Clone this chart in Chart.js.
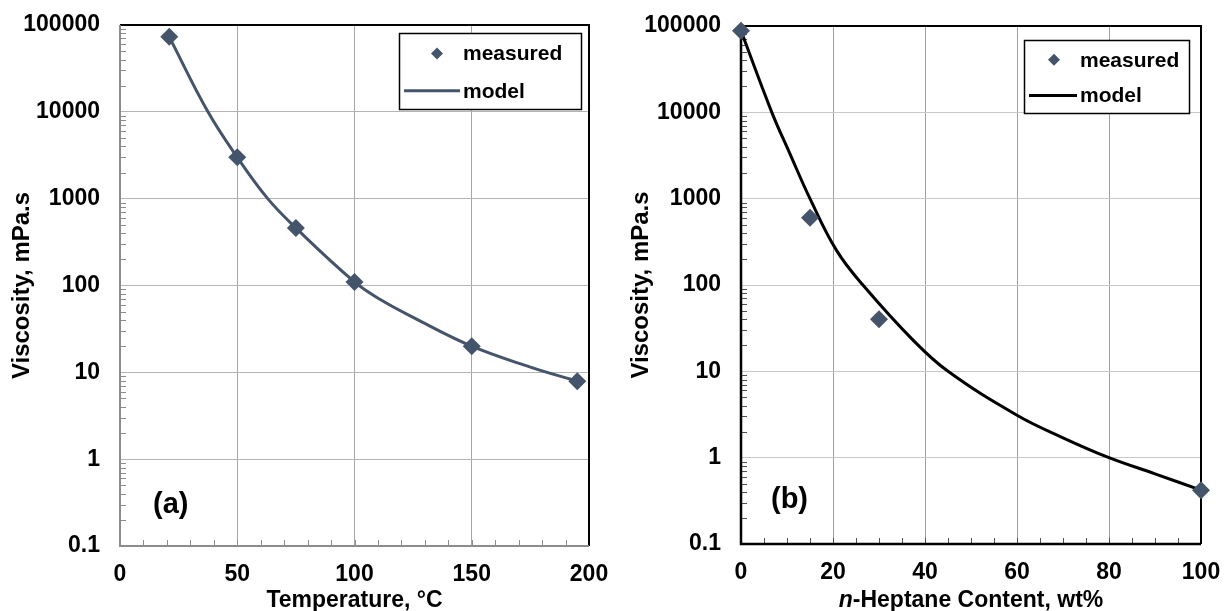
<!DOCTYPE html>
<html>
<head>
<meta charset="utf-8">
<script src="https://cdn.jsdelivr.net/npm/chart.js@4.4.1/dist/chart.umd.min.js"></script>
<style>
  html, body { margin: 0; padding: 0; background: #fff; }
  #wrap { position: relative; width: 1227px; height: 611px; }
  .panel { position: absolute; top: 0; height: 611px; }
  #panelA { left: 0; width: 612px; }
  #panelB { left: 613px; width: 614px; }
</style>
</head>
<body>
<div id="wrap">
  <div class="panel" id="panelA"><canvas id="chartA"></canvas></div>
  <div class="panel" id="panelB"><canvas id="chartB"></canvas></div>
</div>
<script>
// (a) viscosity vs temperature
var tempMeasured = [21, 50, 75, 100, 150, 195];
var viscMeasuredA = [73000, 3000, 460, 110, 20, 7.9];
var tempModel = [21, 37.5, 50, 63, 75, 100, 111, 125, 150, 175, 195];
var viscModelA = [73000, 10000, 3000, 1000, 460, 110, 69, 43, 20, 11.5, 7.9];

// (b) viscosity vs n-heptane content
var heptMeasured = [0, 15, 30, 100];
var viscMeasuredB = [88000, 600, 40, 0.42];
var heptModel = [0, 6.7, 10.6, 15, 20.8, 26.5, 37.4, 45, 60, 70, 80, 90, 100];
var viscModelB = [88000, 10000, 3350, 1000, 250, 100, 23, 10, 3.1, 1.7, 1.0, 0.65, 0.42];

var yTickValues = [0.1, 1, 10, 100, 1000, 10000, 100000];
var yTickLabels = ['0.1', '1', '10', '100', '1000', '10000', '100000'];

var FONT = '"Liberation Sans", Arial, sans-serif';
var markerColor = '#44546A';

function pts(xs, ys) {
  return xs.map(function (x, i) { return { x: x, y: ys[i] }; });
}

// frame, inside minor ticks, axis title, panel tag and legend box
var decor = {
  id: 'decor',
  beforeDatasetsDraw: function (chart, args, o) {
    var c = chart.ctx, a = chart.chartArea;
    var xs = chart.scales.x, ys = chart.scales.y;
    c.save();
    // minor ticks on the y axis
    c.strokeStyle = o.tickColor;
    c.lineWidth = 1;
    for (var d = -1; d < 5; d++) {
      for (var k = 2; k < 10; k++) {
        var py = Math.round(ys.getPixelForValue(k * Math.pow(10, d))) + 0.5;
        c.beginPath(); c.moveTo(a.left, py); c.lineTo(a.left + 6, py); c.stroke();
      }
    }
    // minor ticks on the x axis
    for (var v = xs.min; v <= xs.max; v += o.xMinor) {
      var px = Math.round(xs.getPixelForValue(v)) + 0.5;
      c.beginPath(); c.moveTo(px, a.bottom); c.lineTo(px, a.bottom - 6); c.stroke();
    }
    // top and right edges
    c.strokeStyle = '#000';
    c.lineWidth = 2;
    c.beginPath();
    c.moveTo(a.left, a.top); c.lineTo(a.right, a.top); c.lineTo(a.right, a.bottom);
    c.stroke();
    // left and bottom edges
    c.strokeStyle = o.axisColor;
    c.lineWidth = o.axisWidth;
    c.beginPath();
    c.moveTo(a.left, a.top); c.lineTo(a.left, a.bottom); c.lineTo(a.right, a.bottom);
    c.stroke();
    c.restore();
  },
  afterDraw: function (chart, args, o) {
    var c = chart.ctx, a = chart.chartArea;
    c.save();
    c.fillStyle = '#000';
    c.font = 'bold 29px ' + FONT;
    c.textBaseline = 'middle';
    c.fillText(o.tag, a.left + o.tagDx, a.bottom - o.tagDy);

    // x title, first part in italics
    var t = o.xTitle;
    c.font = 'italic bold 23px ' + FONT;
    var w1 = c.measureText(t[0]).width;
    c.font = 'bold 23px ' + FONT;
    var w2 = c.measureText(t[1]).width;
    var x0 = (a.left + a.right) / 2 - (w1 + w2) / 2;
    c.textAlign = 'left';
    c.font = 'italic bold 23px ' + FONT;
    c.fillText(t[0], x0, 601);
    c.font = 'bold 23px ' + FONT;
    c.fillText(t[1], x0 + w1, 601);

    // legend
    var L = o.legend;
    var lx = a.right - L.right - L.w, ly = a.top + L.top;
    c.fillStyle = '#fff';
    c.fillRect(lx, ly, L.w, L.h);
    c.strokeStyle = '#000';
    c.lineWidth = 1.5;
    c.strokeRect(lx + 0.5, ly + 0.5, L.w, L.h);
    var ds0 = chart.data.datasets[0], ds1 = chart.data.datasets[1];
    var dx = lx + L.symX, r = 6;
    var my = ly + L.h * 0.27, ly2 = ly + L.h * 0.76;
    c.fillStyle = ds0.backgroundColor;
    c.beginPath();
    c.moveTo(dx, my - r); c.lineTo(dx + r, my); c.lineTo(dx, my + r); c.lineTo(dx - r, my);
    c.closePath(); c.fill();
    c.strokeStyle = ds1.borderColor;
    c.lineWidth = 3;
    c.beginPath(); c.moveTo(lx + 5, ly2); c.lineTo(lx + L.textX - 3, ly2); c.stroke();
    c.fillStyle = '#000';
    c.font = 'bold 21px ' + FONT;
    c.textBaseline = 'middle';
    c.fillText(ds0.label, lx + L.textX, my + 1);
    c.fillText(ds1.label, lx + L.textX, ly2 + 1);
    c.restore();
  }
};

function makeChart(id, cfg) {
  return new Chart(document.getElementById(id), {
    data: {
      datasets: [{
        type: 'scatter',
        label: 'measured',
        data: cfg.measured,
        pointStyle: 'rectRot',
        pointRadius: 9,
        pointHoverRadius: 9,
        backgroundColor: markerColor,
        borderColor: markerColor,
        borderWidth: 0,
        clip: false,
        order: 0
      }, {
        type: 'line',
        label: 'model',
        data: cfg.model,
        borderColor: cfg.lineColor,
        borderWidth: 3,
        pointRadius: 0,
        tension: 0.4,
        fill: false,
        clip: false,
        order: 1
      }]
    },
    options: {
      responsive: true,
      maintainAspectRatio: false,
      animation: false,
      events: [],
      layout: { padding: cfg.padding },
      plugins: {
        legend: { display: false },
        tooltip: { enabled: false },
        decor: cfg.decor
      },
      scales: {
        x: {
          type: 'linear',
          min: cfg.xMin, max: cfg.xMax,
          afterBuildTicks: function (s) {
            s.ticks = cfg.xTicks.map(function (v) { return { value: v }; });
          },
          afterFit: function (s) {
            s.height = cfg.xHeight;
            s.paddingLeft = 0; s.paddingRight = 0;
          },
          ticks: {
            color: '#000', padding: 15, maxRotation: 0,
            font: { family: FONT, size: 23, weight: 'bold' }
          },
          grid: { color: cfg.vGrid, lineWidth: 1, drawTicks: false },
          border: { display: false }
        },
        y: {
          type: 'logarithmic',
          min: 0.1, max: 100000,
          afterBuildTicks: function (s) {
            s.ticks = yTickValues.map(function (v) { return { value: v }; });
          },
          afterFit: function (s) {
            s.width = cfg.yWidth;
            s.paddingTop = 0; s.paddingBottom = 0;
          },
          ticks: {
            color: '#000', padding: 20,
            callback: function (v) {
              var i = yTickValues.indexOf(v);
              return i < 0 ? '' : yTickLabels[i];
            },
            font: { family: FONT, size: 23, weight: 'bold' }
          },
          grid: { color: cfg.hGrid, lineWidth: 1, drawTicks: false },
          border: { display: false },
          title: {
            display: true, text: 'Viscosity, mPa.s', color: '#000',
            padding: { top: cfg.yTitlePad, bottom: 0 },
            font: { family: FONT, size: 24, weight: 'bold' }
          }
        }
      }
    },
    plugins: [decor]
  });
}

makeChart('chartA', {
  measured: pts(tempMeasured, viscMeasuredA),
  model: pts(tempModel, viscModelA),
  lineColor: markerColor,
  xMin: 0, xMax: 200, xTicks: [0, 50, 100, 150, 200],
  padding: { left: 0, right: 23, top: 25, bottom: 0 },
  xHeight: 65, yWidth: 120, yTitlePad: 8,
  vGrid: '#A6A6A6', hGrid: '#B4B4B4',
  decor: {
    tickColor: '#8C8C8C', axisColor: '#8C8C8C', axisWidth: 2, xMinor: 10,
    tag: '(a)', tagDx: 33, tagDy: 41,
    xTitle: ['', 'Temperature, °C'],
    legend: { right: 8, top: 8, w: 182, h: 76, symX: 38, textX: 64 }
  }
});

makeChart('chartB', {
  measured: pts(heptMeasured, viscMeasuredB),
  model: pts(heptModel, viscModelB),
  lineColor: '#000',
  xMin: 0, xMax: 100, xTicks: [0, 20, 40, 60, 80, 100],
  padding: { left: 0, right: 26, top: 26, bottom: 0 },
  xHeight: 67, yWidth: 128, yTitlePad: 14,
  vGrid: '#A0A0A0', hGrid: '#C8C8C8',
  decor: {
    tickColor: '#505050', axisColor: '#000', axisWidth: 2.5, xMinor: 5,
    tag: '(b)', tagDx: 30, tagDy: 44,
    xTitle: ['n', '-Heptane Content, wt%'],
    legend: { right: 12, top: 14, w: 165, h: 73, symX: 30, textX: 56 }
  }
});
</script>
</body>
</html>
